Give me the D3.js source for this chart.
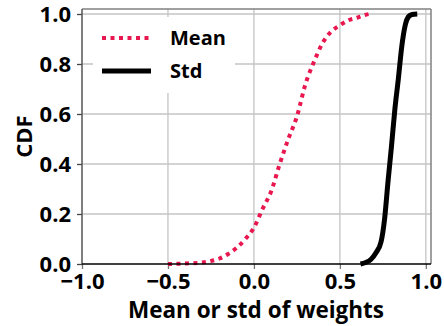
<!DOCTYPE html>
<html>
<head>
<meta charset="utf-8">
<script src="https://cdn.jsdelivr.net/npm/d3@7"></script>
<style>
    body { margin: 0; background: #fff; }
    text { font-family: "Open Sans", Lato, sans-serif; font-weight: bold; fill: #000; }
</style>
</head>
<body>
<div id="chart"></div>
<script>
'use strict';

// values
const meanX = [-0.5, -0.4, -0.3, -0.25, -0.2, -0.15, -0.1, -0.05, 0.0, 0.05, 0.1, 0.15, 0.2, 0.25, 0.3, 0.35, 0.4, 0.45, 0.5, 0.55, 0.6, 0.63, 0.67];
const meanCdf = [0, 0.002, 0.006, 0.012, 0.022, 0.04, 0.065, 0.1, 0.145, 0.22, 0.29, 0.4, 0.5, 0.59, 0.72, 0.81, 0.885, 0.93, 0.955, 0.975, 0.985, 0.993, 1.0];
const stdX = [0.62, 0.65, 0.68, 0.71, 0.74, 0.76, 0.78, 0.8, 0.82, 0.84, 0.86, 0.88, 0.9, 0.92, 0.95];
const stdCdf = [0, 0.006, 0.018, 0.045, 0.09, 0.18, 0.33, 0.47, 0.62, 0.74, 0.87, 0.955, 0.99, 0.998, 1.0];
const xTicks = [-1.0, -0.5, 0.0, 0.5, 1.0];
const yTicks = [0.0, 0.2, 0.4, 0.6, 0.8, 1.0];
const seriesNames = ['Mean', 'Std'];

const W = 444, H = 326;
const M = { left: 82, right: 13, top: 9, bottom: 62 };

const svg = d3.select('#chart')
    .append('svg')
    .attr('width', W)
    .attr('height', H);

const x = d3.scaleLinear().domain([-1.0, 1.03]).range([M.left, W - M.right]);
const y = d3.scaleLinear().domain([0, 1.02]).range([H - M.bottom, M.top]);

const fmt = d => d3.format('.1f')(d).replace('-', '\u2212');

//grid
svg.append('g')
    .selectAll('line')
    .data(xTicks.slice(1))
    .enter()
    .append('line')
    .attr('x1', d => x(d)).attr('x2', d => x(d))
    .attr('y1', y.range()[1]).attr('y2', y.range()[0])
    .attr('stroke', '#c4c4c4')
    .attr('stroke-width', 1.3);

svg.append('g')
    .selectAll('line')
    .data(yTicks.slice(1))
    .enter()
    .append('line')
    .attr('x1', x.range()[0]).attr('x2', x.range()[1])
    .attr('y1', d => y(d)).attr('y2', d => y(d))
    .attr('stroke', '#c4c4c4')
    .attr('stroke-width', 1.3);

//axes
const xAxis = svg.append('g')
    .attr('transform', `translate(0,${y(0)})`)
    .call(d3.axisBottom(x).tickValues(xTicks).tickFormat(fmt).tickSize(5).tickPadding(4));
xAxis.select('.domain').remove();
xAxis.selectAll('line').attr('stroke', '#777').attr('stroke-width', 1.3);
xAxis.selectAll('text').style('font-size', '22px').attr('dy', '0.74em');

const yAxis = svg.append('g')
    .attr('transform', `translate(${x(-1)},0)`)
    .call(d3.axisLeft(y).tickValues(yTicks).tickFormat(fmt).tickSize(5).tickPadding(6));
yAxis.select('.domain').remove();
yAxis.selectAll('line').attr('stroke', '#444').attr('stroke-width', 1.3);
yAxis.selectAll('text').style('font-size', '22px').attr('dy', '0.34em');

//frame
const [x0, x1] = x.range();
const [yb, yt] = y.range();
svg.append('line').attr('x1', x0).attr('x2', x1).attr('y1', yt).attr('y2', yt)
    .attr('stroke', '#808080').attr('stroke-width', 1.5);
svg.append('line').attr('x1', x1).attr('x2', x1).attr('y1', yt).attr('y2', yb)
    .attr('stroke', '#808080').attr('stroke-width', 1.5);
svg.append('line').attr('x1', x0).attr('x2', x0).attr('y1', yt).attr('y2', yb)
    .attr('stroke', '#555').attr('stroke-width', 1.5);

//curves
const line = d3.line()
    .x(d => x(d[0]))
    .y(d => y(d[1]))
    .curve(d3.curveMonotoneX);

svg.append('path')
    .datum(meanX.map((v, i) => [v, meanCdf[i]]))
    .attr('d', line)
    .attr('fill', 'none')
    .attr('stroke', '#e8174f')
    .attr('stroke-width', 4)
    .attr('stroke-dasharray', '4,4.5');

svg.append('path')
    .datum(stdX.map((v, i) => [v, stdCdf[i]]))
    .attr('d', line)
    .attr('fill', 'none')
    .attr('stroke', '#000')
    .attr('stroke-width', 5)
    .attr('stroke-linejoin', 'round');

svg.append('line').attr('x1', x0).attr('x2', x1).attr('y1', yb).attr('y2', yb)
    .attr('stroke', '#000').attr('stroke-width', 1.5);

//legend
const legend = svg.append('g');
legend.append('rect')
    .attr('x', 93).attr('y', 17)
    .attr('width', 142).attr('height', 76)
    .attr('fill', '#fff');

const legendStyles = [
    { color: '#e8174f', width: 4, dash: '4,4.5' },
    { color: '#000', width: 5, dash: null },
];
seriesNames.forEach((name, i) => {
    const ly = 38 + i * 33;
    legend.append('line')
        .attr('x1', 102).attr('x2', 151)
        .attr('y1', ly).attr('y2', ly)
        .attr('stroke', legendStyles[i].color)
        .attr('stroke-width', legendStyles[i].width)
        .attr('stroke-dasharray', legendStyles[i].dash);
    legend.append('text')
        .attr('x', 170).attr('y', ly)
        .attr('dy', '0.36em')
        .style('font-size', '20px')
        .text(name);
});

//axis labels
svg.append('text')
    .attr('x', 256).attr('y', 318)
    .attr('text-anchor', 'middle')
    .style('font-size', '22.5px')
    .text('Mean or std of weights');

svg.append('text')
    .attr('transform', `translate(32,${(yt + yb) / 2}) rotate(-90)`)
    .attr('text-anchor', 'middle')
    .style('font-size', '22px')
    .text('CDF');
</script>
</body>
</html>
